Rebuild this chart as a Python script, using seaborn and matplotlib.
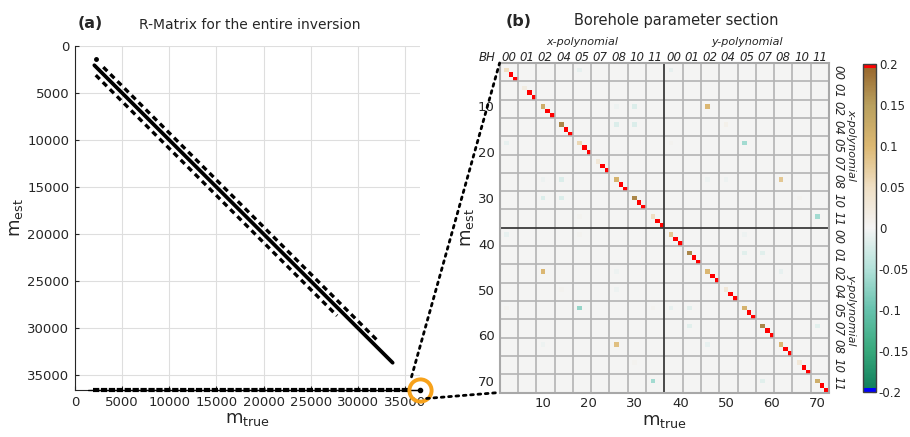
import numpy as np
import matplotlib
matplotlib.use("Agg")
import matplotlib.pyplot as plt
import matplotlib.transforms as mtrans
from matplotlib.colors import LinearSegmentedColormap, ListedColormap
from matplotlib.patches import ConnectionPatch
import seaborn as sns

#%% data - panel (a): sparsity pattern of the full R-matrix
n_param = 36600
band_start = [2050, 3000, 2200]       # first model index of each band
band_end = [33700, 32200, 27800]      # last model index of each band
band_shift = [0, -750, 900]           # m_est = m_true + shift
band_width = [2.7, 2.4, 2.4]
band_dashed = [False, True, True]
stray_x = [2220]
stray_y = [1340]
bh_row = 36570                        # borehole parameter rows
bh_row_start = 1400
bh_row_end = 36600
zoom_center = [36600, 36600]
conn_top = [35700, 35200]
conn_bottom = [37300, 37500]

#%% data - panel (b): borehole parameter section (72 x 72)
bh_labels = ['00', '01', '02', '04', '05', '07', '08', '10', '11']
poly_labels = ['x-polynomial', 'y-polynomial']
red_idx = [3, 4, 7, 8, 11, 12, 15, 16, 19, 20, 23, 24, 27, 28, 31, 32, 35, 36,
           39, 40, 43, 44, 47, 48, 51, 52, 55, 56, 59, 60, 63, 64, 67, 68, 71, 72]
red_val = 0.6
tan_idx = [2, 6, 10, 14, 18, 22, 26, 30, 34, 38, 42, 46, 50, 54, 58, 62, 66, 70]
tan_val = [0.05, 0.02, 0.12, 0.17, 0.06, 0.03, 0.11, 0.17, 0.05,
           0.08, 0.17, 0.10, 0.03, 0.11, 0.17, 0.10, 0.03, 0.12]
off_row = [2, 2, 10, 10, 10, 14, 14, 14, 18, 18, 18, 26, 26, 26, 26, 26, 30, 30, 30,
           34, 34, 38, 38, 38, 42, 42, 46, 46, 46, 50, 50, 54, 54, 54, 54, 54,
           58, 58, 62, 62, 62, 66, 70, 70]
off_col = [18, 38, 26, 30, 46, 26, 30, 50, 2, 38, 54, 10, 14, 46, 50, 62, 10, 14, 66,
           18, 70, 2, 18, 54, 54, 58, 10, 26, 62, 14, 26, 2, 18, 34, 38, 42,
           42, 70, 10, 26, 46, 30, 34, 58]
off_val = [-0.01, -0.01, -0.005, -0.02, 0.1, -0.02, -0.02, 0.01, -0.01, 0.005, -0.06,
           -0.005, -0.02, -0.005, -0.005, 0.08, -0.02, -0.02, 0.005,
           0.005, -0.06, -0.01, 0.005, -0.005, -0.015, -0.015, 0.1, -0.005, -0.01,
           0.005, -0.005, 0.005, -0.07, 0.005, -0.01, -0.015,
           -0.015, -0.015, -0.005, 0.09, -0.01, 0.005, -0.06, -0.015]
cbar_ticks = [-0.2, -0.15, -0.1, -0.05, 0, 0.05, 0.1, 0.15, 0.2]
cbar_labels = ['-0.2', '-0.15', '-0.1', '-0.05', '0', '0.05', '0.1', '0.15', '0.2']
axis_ticks = [10, 20, 30, 40, 50, 60, 70]

R = np.zeros((72, 72))
for i in red_idx:
    R[i - 1, i - 1] = red_val
for i, v in zip(tan_idx, tan_val):
    R[i - 1, i - 1] = v
for r, c, v in zip(off_row, off_col, off_val):
    R[r - 1, c - 1] = v

#%% style
sns.set_style("white")
plt.rcParams['font.family'] = ['DejaVu Sans']
plt.rcParams['mathtext.default'] = 'regular'
dark = '#262626'
plt.rcParams['text.color'] = dark
plt.rcParams['axes.labelcolor'] = dark
plt.rcParams['xtick.color'] = dark
plt.rcParams['ytick.color'] = dark

fig = plt.figure(figsize=(9.1, 4.37), dpi=100)
ax1 = fig.add_axes([75 / 910, 1 - 390 / 437, 345 / 910, 344 / 437])
ax2 = fig.add_axes([499.6 / 910, 1 - 392.5 / 437, 329.4 / 910, 329.5 / 437])
cax = fig.add_axes([863 / 910, 1 - 392 / 437, 13 / 910, 328 / 437])

#%% panel (a)
for x0, x1, sh, w, d in zip(band_start, band_end, band_shift, band_width, band_dashed):
    ls = (0, (1.7, 1.3)) if d else '-'
    ax1.plot([x0, x1], [x0 + sh, x1 + sh], color='k', lw=w, ls=ls, zorder=3)
ax1.plot(stray_x, stray_y, 'o', color='k', ms=2.5, zorder=3)
ax1.plot([bh_row_start, bh_row_end], [bh_row, bh_row], color='k', lw=1.0,
         clip_on=False, zorder=3)
ax1.plot([bh_row_start + 500, bh_row_end - 1100], [bh_row, bh_row], color='k', lw=3.0,
         ls=(0, (1.5, 0.4)), clip_on=False, zorder=3)
ax1.plot([zoom_center[0]], [zoom_center[1]], 'o', ms=16, mfc='none', mec='#f7a21b',
         mew=2.8, clip_on=False, zorder=6)
ax1.plot([zoom_center[0]], [zoom_center[1]], 'o', ms=3, color='k', clip_on=False, zorder=6)

ax1.set_xlim(0, n_param)
ax1.set_ylim(n_param, 0)
ax1.set_xticks(np.arange(0, 35001, 5000))
ax1.set_yticks(np.arange(0, 35001, 5000))
ax1.grid(True, color='#dedede', lw=0.8)
ax1.set_axisbelow(True)
for s in ['top', 'right']:
    ax1.spines[s].set_visible(False)
for s in ['left', 'bottom']:
    ax1.spines[s].set_color(dark)
    ax1.spines[s].set_linewidth(0.8)
ax1.tick_params(direction='in', length=3, width=0.8, labelsize=9.5,
                bottom=True, left=True, pad=4)
ax1.set_xlabel('m$_{true}$', fontsize=13, labelpad=1)
ax1.set_ylabel('m$_{est}$', fontsize=13, labelpad=2)

fig.text(90 / 910, 1 - 23 / 437, '(a)', fontsize=11.5, fontweight='bold',
         ha='center', va='center')
fig.text(250 / 910, 1 - 25 / 437, 'R-Matrix for the entire inversion', fontsize=10,
         ha='center', va='center')

#%% panel (b)
cb_colors = ['#0e7c5a', '#38a97c', '#66c2ad', '#b3e2da', '#f4f4f4',
             '#efdfc4', '#dcb872', '#b9a05e', '#96632a']
base = LinearSegmentedColormap.from_list('rbg', cb_colors, N=256)
cols = base(np.linspace(0, 1, 256))
cols[-3:] = [1, 0, 0, 1]
cols[:3] = [0, 0, 1, 1]
cmap = ListedColormap(cols)

sns.heatmap(R, ax=ax2, cmap=cmap, vmin=-0.2, vmax=0.2, cbar_ax=cax,
            xticklabels=False, yticklabels=False)

for e in range(4, 72, 4):
    if e == 36:
        continue
    ax2.axvline(e, color='#b4b4b4', lw=1.2)
    ax2.axhline(e, color='#b4b4b4', lw=1.2)
ax2.axvline(36, color='#3c3c3c', lw=1.3)
ax2.axhline(36, color='#3c3c3c', lw=1.3)

ax2.set_xticks([t - 0.5 for t in axis_ticks])
ax2.set_xticklabels([str(t) for t in axis_ticks], rotation=0)
ax2.set_yticks([t - 0.5 for t in axis_ticks])
ax2.set_yticklabels([str(t) for t in axis_ticks], rotation=0)
ax2.tick_params(direction='in', length=3, width=0.8, labelsize=9.5,
                bottom=True, left=True, top=True, right=True,
                labeltop=False, labelright=False)
for s in ax2.spines.values():
    s.set_visible(True)
    s.set_color('#a8a8a8')
    s.set_linewidth(1.5)
ax2.set_xlabel('m$_{true}$', fontsize=13, labelpad=1)
ax2.set_ylabel('m$_{est}$', fontsize=13, labelpad=1)

top_tr = mtrans.blended_transform_factory(ax2.transData, ax2.transAxes)
right_tr = mtrans.blended_transform_factory(ax2.transAxes, ax2.transData)
all_bh = bh_labels * 2
for b, lab in enumerate(all_bh):
    ax2.text(4 * b + 2, 1.018, lab, transform=top_tr, ha='center', va='center',
             fontsize=8.5, style='italic')
    ax2.text(1.027, 4 * b + 2, lab, transform=right_tr, ha='center', va='center',
             fontsize=8.5, style='italic', rotation=-90)
for k, lab in enumerate(poly_labels):
    ax2.text(18 + 36 * k, 1.064, lab, transform=top_tr, ha='center', va='center',
             fontsize=8, style='italic')
    ax2.text(1.067, 18 + 36 * k, lab, transform=right_tr, ha='center', va='center',
             fontsize=8, style='italic', rotation=-90)
ax2.text(-0.038, 1.018, 'BH', transform=ax2.transAxes, ha='center', va='center',
         fontsize=8.5, style='italic')

fig.text(519 / 910, 1 - 22 / 437, '(b)', fontsize=11.5, fontweight='bold',
         ha='center', va='center')
fig.text(676 / 910, 1 - 21 / 437, 'Borehole parameter section', fontsize=10.5,
         ha='center', va='center')

cbar = ax2.collections[0].colorbar
cbar.set_ticks(cbar_ticks)
cbar.set_ticklabels(cbar_labels)
cbar.outline.set_edgecolor('#404040')
cbar.outline.set_linewidth(1.0)
cax.tick_params(labelsize=8.5, direction='in', length=3, width=0.8, right=True, pad=2)

#%% dotted lines from the marked corner to the zoomed section
for xa, xb in [(conn_top, (0, 1)), (conn_bottom, (0, 0))]:
    con = ConnectionPatch(xyA=xa, coordsA=ax1.transData, xyB=xb, coordsB=ax2.transAxes,
                          color='k', lw=2, ls=':', capstyle='round')
    fig.add_artist(con)

fig.savefig('out.png', dpi=100)
